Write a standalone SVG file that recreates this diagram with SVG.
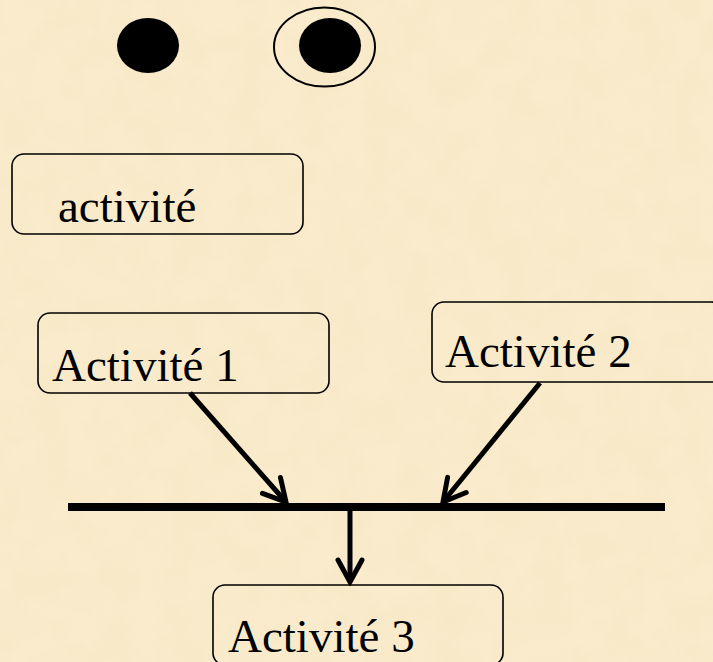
<svg xmlns="http://www.w3.org/2000/svg" width="713" height="662" viewBox="0 0 713 662">
<style>
.box{fill:none;stroke:#000;stroke-width:1.6}
.lbl{font-family:"Liberation Serif","Times New Roman",serif;font-size:47px;fill:#000}
.conn{stroke:#000;stroke-width:5;fill:none}
</style>
<defs>
<filter id="tex" x="0" y="0" width="100%" height="100%">
<feTurbulence type="fractalNoise" baseFrequency="0.03" numOctaves="3" seed="4" result="n"/>
<feColorMatrix in="n" type="matrix" values="0 0 0 0 0.85  0 0 0 0 0.72  0 0 0 0 0.45  0 0 0 0.9 -0.35"/>
</filter>
<marker id="ah" markerUnits="userSpaceOnUse" viewBox="-26 -16 30 32" refX="0" refY="0" markerWidth="30" markerHeight="32" orient="auto">
<path d="M-22 -12 L0 0 L-22 12" fill="none" stroke="#000" stroke-width="5" stroke-linecap="round" stroke-linejoin="miter"/>
</marker>
</defs>
<rect width="713" height="662" fill="#f9ebcb"/>
<rect width="713" height="662" filter="url(#tex)" opacity="0.35"/>
<g id="initial">
<ellipse cx="148" cy="45.5" rx="31" ry="27.5" fill="#000"/>
</g>
<g id="final">
<ellipse cx="324.5" cy="47" rx="50.5" ry="39.5" fill="none" stroke="#000" stroke-width="2"/>
<ellipse cx="330" cy="45.5" rx="31" ry="27.5" fill="#000"/>
</g>
<g id="activite">
<rect class="box" x="12" y="154" width="291" height="80" rx="12"/>
<text class="lbl" x="58" y="222">activité</text>
</g>
<g id="activite1">
<rect class="box" x="38" y="313" width="291" height="80" rx="12"/>
<text class="lbl" x="52" y="381">Activité 1</text>
</g>
<g id="activite2">
<rect class="box" x="432" y="302" width="291" height="80" rx="12"/>
<text class="lbl" x="445" y="367">Activité 2</text>
</g>
<g id="sync">
<rect x="68" y="503" width="597" height="8" fill="#000"/>
</g>
<g id="activite3">
<rect class="box" x="213" y="585" width="290" height="80" rx="12"/>
<text class="lbl" x="228" y="652">Activité 3</text>
</g>
<g id="connectors">
<line class="conn" x1="190" y1="393" x2="286" y2="502" marker-end="url(#ah)"/>
<line class="conn" x1="540" y1="383" x2="443" y2="502" marker-end="url(#ah)"/>
<line class="conn" x1="350" y1="507" x2="350" y2="582" marker-end="url(#ah)"/>
</g>
</svg>
